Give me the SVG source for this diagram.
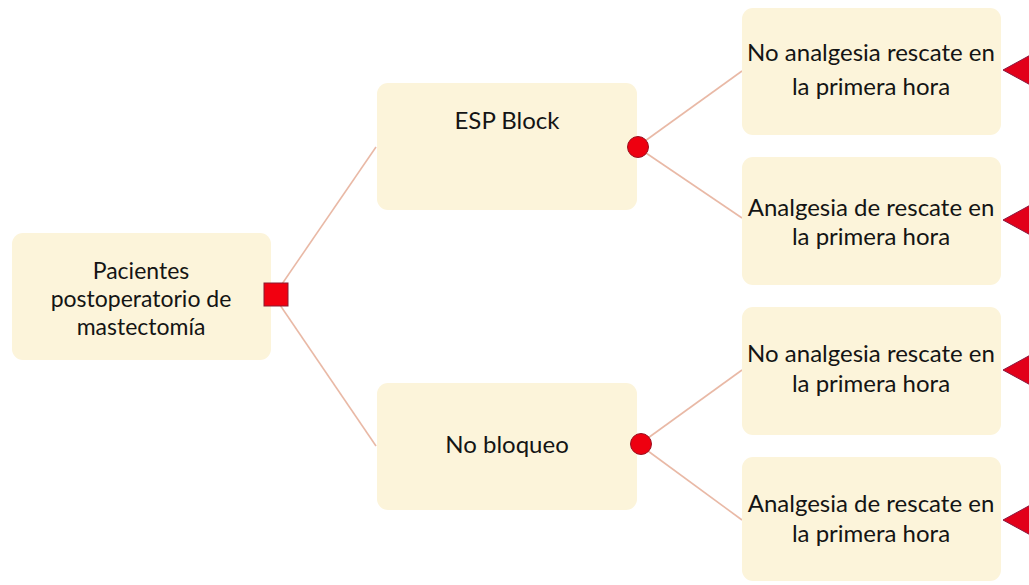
<svg xmlns="http://www.w3.org/2000/svg" width="1029" height="585" viewBox="0 0 1029 585">
<style>
.box{fill:#fcf4da;}
.t{font-family:Lato,"Liberation Sans",sans-serif;font-size:24px;fill:#141414;text-anchor:middle;}
.tr{font-size:23px;}
.ln{stroke:#e9b9a6;stroke-width:1.6;fill:none;}
.chance{fill:#ee0010;stroke:#9a1020;stroke-width:1;}
.term{fill:#e2001a;stroke:#8a1a40;stroke-width:1;}
</style>
<rect width="1029" height="585" fill="#ffffff"/>
<g id="connectors">
<line class="ln" x1="282" y1="284" x2="376" y2="147"/>
<line class="ln" x1="280" y1="305" x2="376" y2="446"/>
<line class="ln" x1="645" y1="141" x2="742" y2="71"/>
<line class="ln" x1="646" y1="153" x2="742" y2="218"/>
<line class="ln" x1="648" y1="438" x2="742" y2="370"/>
<line class="ln" x1="648" y1="451" x2="742" y2="520"/>
</g>
<g id="root">
<rect class="box" x="12" y="233" width="259" height="127" rx="11"/>
<text class="t tr" x="141" y="279">Pacientes</text>
<text class="t tr" x="141" y="307">postoperatorio de</text>
<text class="t tr" x="141" y="335">mastectomía</text>
<rect x="264" y="283" width="24" height="23" fill="#f20010" stroke="#8a1a30" stroke-width="1"/>
</g>
<g id="esp">
<rect class="box" x="377" y="83" width="260" height="127" rx="11"/>
<text class="t" x="507" y="129">ESP Block</text>
<circle class="chance" cx="638" cy="147" r="10.5"/>
</g>
<g id="nobloqueo">
<rect class="box" x="377" y="383" width="260" height="127" rx="11"/>
<text class="t" x="507" y="453">No bloqueo</text>
<circle class="chance" cx="641" cy="444" r="10.5"/>
</g>
<g id="out1">
<rect class="box" x="742" y="8" width="259" height="127" rx="11"/>
<text class="t" x="871" y="61">No analgesia rescate en</text>
<text class="t" x="871" y="95">la primera hora</text>
<polygon class="term" points="1003,70 1036,52 1036,88"/>
</g>
<g id="out2">
<rect class="box" x="742" y="157" width="259" height="128" rx="11"/>
<text class="t" x="871" y="216">Analgesia de rescate en</text>
<text class="t" x="871" y="245">la primera hora</text>
<polygon class="term" points="1003,220 1036,202 1036,238"/>
</g>
<g id="out3">
<rect class="box" x="742" y="307" width="259" height="128" rx="11"/>
<text class="t" x="871" y="362">No analgesia rescate en</text>
<text class="t" x="871" y="392">la primera hora</text>
<polygon class="term" points="1003,370 1036,352 1036,388"/>
</g>
<g id="out4">
<rect class="box" x="742" y="457" width="259" height="124" rx="11"/>
<text class="t" x="871" y="512">Analgesia de rescate en</text>
<text class="t" x="871" y="542">la primera hora</text>
<polygon class="term" points="1003,520 1036,502 1036,538"/>
</g>
</svg>
